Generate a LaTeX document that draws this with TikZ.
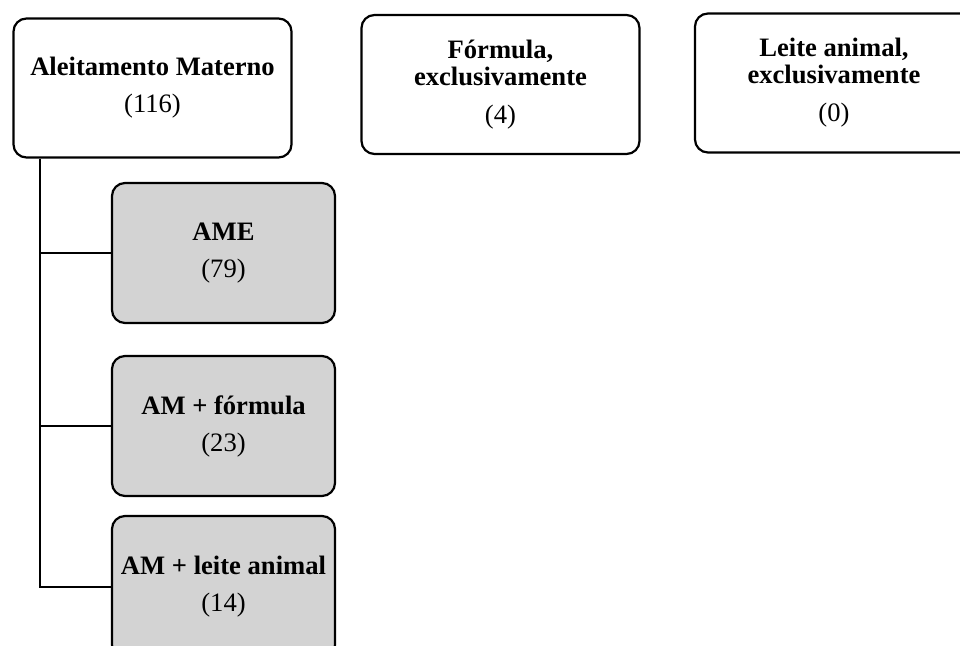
\documentclass[tikz,border=0pt]{standalone}
\usepackage{fontspec}
\setmainfont{Liberation Serif}
\usetikzlibrary{positioning,calc}
\definecolor{boxgray}{RGB}{211,211,211}
\tikzset{
  line/.style={line width=1pt},
  % caixas
  box/.style={draw,rounded corners=6.5pt,line width=1.1pt,align=center,inner sep=0pt,
              font=\fontsize{13.3}{13.5}\selectfont},
  grp/.style={box,fill=white,minimum width=139pt,minimum height=69.5pt},
  sub/.style={box,fill=boxgray,minimum width=111.5pt,minimum height=70pt}
}

\begin{document}
\begin{tikzpicture}[x=0.5pt,y=-0.5pt]
  \useasboundingbox (0,0) rectangle (960,646);
  \clip (0,0) rectangle (960,646);

  %--- top row
  \node[grp] (am)    at (152.5,88) {\textbf{Aleitamento Materno}\\[5pt](116)};
  \node[grp] (form)  at (500.5,84.5) {\textbf{Fórmula,}\\\textbf{exclusivamente}\\[5.5pt](4)};
  \node[grp] (leite) at (834,83) {\textbf{Leite animal,}\\\textbf{exclusivamente}\\[5.5pt](0)};

  %--- sub groups
  \node[sub] (ame)  at (223.5,253) {\textbf{AME}\\[5pt](79)};
  \node[sub] (amf)  at (223.5,426) {\textbf{AM + fórmula}\\[5pt](23)};
  \node[sub,minimum height=71pt] (amla) at (223.5,587) {\textbf{AM + leite animal}\\[5pt](14)};

  %--- connectors
  \coordinate (trunk) at ([xshift=13.9pt]am.south west);
  \draw[line] (trunk) |- (amla.west);
  \foreach \n in {ame,amf}{
    \draw[line] (\n.west) -- (\n.west -| trunk);
  }
\end{tikzpicture}
\end{document}
